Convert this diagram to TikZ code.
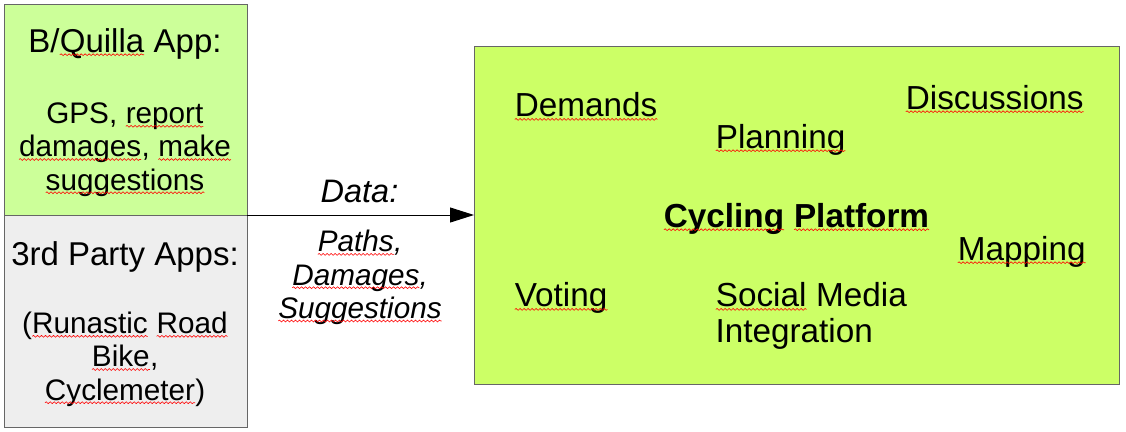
\documentclass[tikz,border=0pt]{standalone}
\usepackage{fontspec}
\setmainfont{Liberation Sans}
\usetikzlibrary{arrows.meta,decorations.pathmorphing}

\definecolor{appgreen}{HTML}{CCFF99}
\definecolor{appgrey}{HTML}{EEEEEE}
\definecolor{platformgreen}{HTML}{CCFF66}
\definecolor{boxline}{HTML}{666666}

\newcommand{\spelled}[1]{\tikz[baseline=(w.base)]{\node[inner sep=0pt, outer sep=0pt, anchor=base] (w) {#1}; \draw[red, line width=0.6pt, decorate, decoration={snake, amplitude=0.9pt, segment length=4pt}] ([yshift=-2.7pt]w.base west) -- ([yshift=-2.7pt]w.base east);}}

\begin{document}
\begin{tikzpicture}[
    x = 1pt, y = -1pt,
    appbox/.style = {draw = boxline, line width = 1pt, minimum width = 243pt, inner sep = 0pt, outer sep = 0pt},
    head/.style = {anchor = base, font = \fontsize{33}{36}\selectfont},
    body/.style = {anchor = base, align = center, font = \fontsize{29.7}{33.2}\selectfont},
    flow/.style = {anchor = base, align = center, font = \itshape\fontsize{29.7}{33.3}\selectfont},
    feature/.style = {anchor = base west, align = left, font = \fontsize{33.3}{36}\selectfont},
    dataarrow/.style = {line width = 1pt, -{Triangle[length = 24pt, width = 15pt]}}]

\useasboundingbox (0,0) rectangle (1126,431);

\node[appbox, fill = appgreen, minimum height = 211pt] (bquilla) at (125.5,109.5) {};
\node[appbox, fill = appgrey, minimum height = 212pt] (thirdparty) at (125.5,321) {};
\node[draw = boxline, line width = 1pt, fill = platformgreen, minimum width = 645pt,
      minimum height = 338pt, inner sep = 0pt, outer sep = 0pt] (platform) at (796.5,215) {};

\draw[dataarrow] (bquilla.south east) -- (platform.west);

\path (125,52) node[head] (bquillahead) {B/\spelled{Quilla} App:}
      (125,190) node[body] (bquillatext) {GPS, \spelled{report}\\\spelled{damages}, \spelled{make}\\\spelled{suggestions}}
      (125,265) node[head] (thirdhead) {3rd Party Apps:}
      (125,400) node[body] (thirdtext) {(\spelled{Runastic} \spelled{Road}\\\spelled{Bike},\\\spelled{Cyclemeter})}
      (359.5,202.3) node[flow, font = \itshape\fontsize{32.5}{36}\selectfont] (datahead) {Data:}
      (360,318.3) node[flow] (datatext) {\spelled{Paths},\\\spelled{Damages},\\\spelled{Suggestions}}
      ;

\path (511,116.7) node[feature] (demands) {\spelled{Demands}}
      (712,148) node[feature] (planning) {\spelled{Planning}}
      (902,109) node[feature] (discussions) {\spelled{Discussions}}
      (796.5,227) node[anchor = base, font = \bfseries\fontsize{33.3}{36}\selectfont] (title) {\spelled{Cycling} \spelled{Platform}}
      (954,260) node[feature] (mapping) {\spelled{Mapping}}
      (511,306.7) node[feature] (voting) {\spelled{Voting}}
      (712,342.7) node[feature] (social) {\spelled{Social} Media\\Integration}
      ;
\end{tikzpicture}
\end{document}
